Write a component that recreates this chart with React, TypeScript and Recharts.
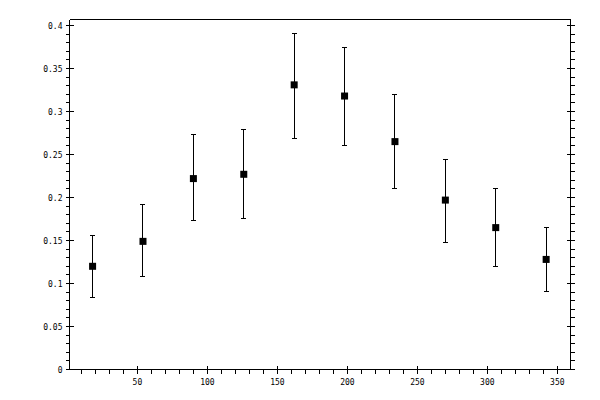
import React from 'react';
import { ScatterChart, Scatter, XAxis, YAxis, ErrorBar } from 'recharts';

// measured points (x position, mean, error bar ends)
const angles = [18, 54, 90, 126, 162, 198, 234, 270, 306, 342];
const means = [0.120, 0.149, 0.222, 0.227, 0.331, 0.318, 0.265, 0.197, 0.165, 0.128];
const upper = [0.156, 0.192, 0.273, 0.279, 0.391, 0.374, 0.320, 0.244, 0.210, 0.165];
const lower = [0.084, 0.108, 0.173, 0.176, 0.269, 0.261, 0.211, 0.148, 0.120, 0.091];

const xMajor = [50, 100, 150, 200, 250, 300, 350];
const yMajor = [0, 0.05, 0.1, 0.15, 0.2, 0.25, 0.3, 0.35, 0.4];

// minor ticks every 10 on x and every 0.01 on y
const xTicks = Array.from({ length: 35 }, (_, i) => (i + 1) * 10);
const yTicks = Array.from({ length: 41 }, (_, i) => i / 100);

const data = angles.map((a, i) => ({
  x: a,
  y: means[i],
  err: [means[i] - lower[i], upper[i] - means[i]],
}));

const FONT = '"DejaVu Sans Mono", monospace';
const isXMajor = (v: number) => xMajor.some((m) => Math.abs(m - v) < 1e-6);
const isYMajor = (v: number) => yMajor.some((m) => Math.abs(m - v) < 1e-6);
const fmtY = (v: number) => String(parseFloat(v.toFixed(2)));

const BottomTick = (props: any) => {
  const { x, y, payload } = props;
  const major = isXMajor(payload.value);
  return (
    <g>
      <line x1={x} x2={x} y1={major ? y - 4 : y} y2={y + 4} stroke="#000" />
      {major && (
        <text x={x} y={y + 15} textAnchor="middle" fontFamily={FONT} fontSize={8} fill="#000">
          {payload.value}
        </text>
      )}
    </g>
  );
};

const TopTick = (props: any) => {
  const { x, y, payload } = props;
  const major = isXMajor(payload.value);
  return <line x1={x} x2={x} y1={y - 4} y2={major ? y + 4 : y} stroke="#000" />;
};

const LeftTick = (props: any) => {
  const { x, y, payload } = props;
  const major = isYMajor(payload.value);
  return (
    <g>
      <line x1={x - 4} x2={major ? x + 4 : x} y1={y} y2={y} stroke="#000" />
      {major && (
        <text x={x - 7} y={y + 3} textAnchor="end" fontFamily={FONT} fontSize={8} fill="#000">
          {fmtY(payload.value)}
        </text>
      )}
    </g>
  );
};

const RightTick = (props: any) => {
  const { x, y, payload } = props;
  const major = isYMajor(payload.value);
  return <line x1={major ? x - 4 : x} x2={x + 4} y1={y} y2={y} stroke="#000" />;
};

const Square = (props: any) => {
  const { cx, cy } = props;
  return <rect x={cx - 3.5} y={cy - 3.5} width={7} height={7} fill="#000" />;
};

export default function App() {
  return (
    <div style={{ position: 'absolute', left: 0, top: 0, width: 600, height: 400, background: '#fff' }}>
      <style>{'svg line, svg path { shape-rendering: crispEdges; }'}</style>
      <ScatterChart width={600} height={400} margin={{ top: 0.5, right: 0.5, bottom: 0.5, left: 0.5 }}>
        <XAxis
          xAxisId="b"
          dataKey="x"
          type="number"
          domain={[1.5, 359.4]}
          ticks={xTicks}
          interval={0}
          allowDataOverflow
          height={30}
          tickSize={0}
          tickMargin={0}
          tickLine={false}
          axisLine={{ stroke: '#000' }}
          tick={BottomTick}
        />
        <XAxis
          xAxisId="t"
          orientation="top"
          type="number"
          domain={[1.5, 359.4]}
          ticks={xTicks}
          interval={0}
          allowDataOverflow
          height={19}
          tickSize={0}
          tickMargin={0}
          tickLine={false}
          axisLine={{ stroke: '#000' }}
          tick={TopTick}
        />
        <YAxis
          yAxisId="l"
          dataKey="y"
          type="number"
          domain={[0, 0.407]}
          ticks={yTicks}
          interval={0}
          allowDataOverflow
          width={69}
          tickSize={0}
          tickMargin={0}
          tickLine={false}
          axisLine={{ stroke: '#000' }}
          tick={LeftTick}
        />
        <YAxis
          yAxisId="r"
          orientation="right"
          type="number"
          domain={[0, 0.407]}
          ticks={yTicks}
          interval={0}
          allowDataOverflow
          width={29}
          tickSize={0}
          tickMargin={0}
          tickLine={false}
          axisLine={{ stroke: '#000' }}
          tick={RightTick}
        />
        <Scatter
          xAxisId="b"
          yAxisId="l"
          data={data}
          fill="#000"
          shape={Square}
          isAnimationActive={false}
        >
          <ErrorBar
            dataKey="err"
            direction="y"
            width={2.5}
            stroke="#000"
            strokeWidth={1}
            isAnimationActive={false}
          />
        </Scatter>
      </ScatterChart>
    </div>
  );
}
